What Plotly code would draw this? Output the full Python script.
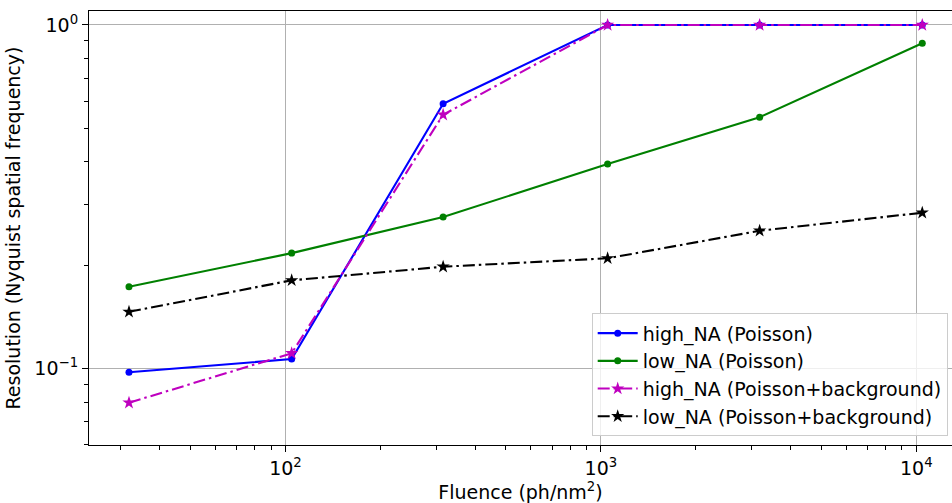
import plotly.graph_objects as go

fluence = [31.9, 104.6, 316, 1050, 3185, 10440]
high_na_poisson = [0.0976, 0.1067, 0.590, 1.0, 1.0, 1.0]
low_na_poisson = [0.1731, 0.2169, 0.2762, 0.394, 0.539, 0.885]
high_na_bg = [0.0796, 0.1109, 0.548, 1.0, 1.0, 1.0]
low_na_bg = [0.1464, 0.1808, 0.198, 0.2095, 0.252, 0.2843]

series_names = ["high_NA (Poisson)", "low_NA (Poisson)",
                "high_NA (Poisson+background)", "low_NA (Poisson+background)"]

x_major = [100, 1000, 10000]
x_major_text = ["10<sup>2</sup>", "10<sup>3</sup>", "10<sup>4</sup>"]
y_major = [0.1, 1.0]
y_major_text = ["10<sup>\u22121</sup>", "10<sup>0</sup>"]

FONT = "DejaVu Sans"
FS = 19
DASHDOT = "12px,4px,2.5px,4px"

fig = go.Figure()
styles = [
    (high_na_poisson, "#0000ff", "solid", "circle", 7),
    (low_na_poisson, "#008000", "solid", "circle", 7),
    (high_na_bg, "#bf00bf", DASHDOT, "star", 10),
    (low_na_bg, "#000000", DASHDOT, "star", 10),
]
for i, (vals, col, dash, sym, ms) in enumerate(styles):
    fig.add_trace(go.Scatter(
        x=fluence, y=vals, mode="lines+markers", name=series_names[i],
        legendgroup=f"g{i}",
        line=dict(color=col, width=2.1, dash=dash),
        marker=dict(color=col, symbol=sym, size=ms, line=dict(width=0)),
    ))

x_minor = [m * 10 ** e for e in (1, 2, 3, 4) for m in range(2, 10)]
y_minor = [m * 10 ** e for e in (-2, -1) for m in range(2, 10)]

fig.update_layout(
    width=952, height=503,
    margin=dict(l=89, r=0, t=11, b=58),
    paper_bgcolor="white", plot_bgcolor="white",
    font=dict(family=FONT, size=FS, color="black"),
    showlegend=True,
    legend=dict(
        x=0.5825, y=0.02, xanchor="left", yanchor="bottom",
        bgcolor="rgba(255,255,255,0.8)", bordercolor="#cccccc", borderwidth=1,
        font=dict(family=FONT, size=FS, color="black"),
        tracegroupgap=0, itemwidth=40,
    ),
    xaxis=dict(
        type="log", range=[1.377, 4.113],
        tickmode="array", tickvals=x_major, ticktext=x_major_text,
        ticks="outside", ticklen=6, tickwidth=1.2, tickcolor="black",
        showline=True, linecolor="black", linewidth=1.2, mirror=True,
        showgrid=True, gridcolor="#b0b0b0", gridwidth=1,
        zeroline=False,
        minor=dict(tickmode="array", tickvals=x_minor, ticks="outside",
                   ticklen=3.5, tickwidth=1, tickcolor="black", showgrid=False),
        title=dict(text="Fluence (ph/nm<sup>2</sup>)", standoff=6,
                   font=dict(family=FONT, size=FS)),
        tickfont=dict(family=FONT, size=FS),
    ),
    yaxis=dict(
        type="log", range=[-1.222, 0.0407],
        tickmode="array", tickvals=y_major, ticktext=y_major_text,
        ticks="outside", ticklen=6, tickwidth=1.2, tickcolor="black",
        showline=True, linecolor="black", linewidth=1.2, mirror=False,
        showgrid=True, gridcolor="#b0b0b0", gridwidth=1,
        zeroline=False,
        minor=dict(tickmode="array", tickvals=y_minor, ticks="outside",
                   ticklen=3.5, tickwidth=1, tickcolor="black", showgrid=False),
        title=dict(text="Resolution (Nyquist spatial frequency)", standoff=8,
                   font=dict(family=FONT, size=FS)),
        tickfont=dict(family=FONT, size=FS),
    ),
)

fig.write_html("out.html")
